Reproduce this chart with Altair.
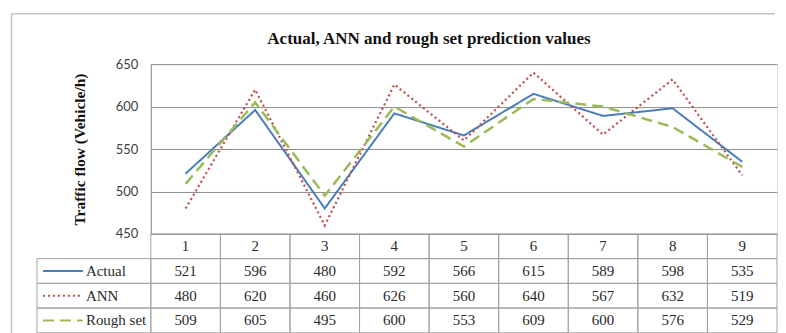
import altair as alt
import pandas as pd

# ---- data ----
periods = [1, 2, 3, 4, 5, 6, 7, 8, 9]
actual = [521, 596, 480, 592, 566, 615, 589, 598, 535]
ann = [480, 620, 460, 626, 560, 640, 567, 632, 519]
rough = [509, 605, 495, 600, 553, 609, 600, 576, 529]
series_names = ["Actual", "ANN", "Rough set"]
series_colors = ["#4A7EBB", "#C0504D", "#9BBB59"]
series_dash = [[1, 0], [2, 3], [11, 6]]
series_width = [2, 2.5, 3]
y_ticks = [450, 500, 550, 600, 650]
title_text = "Actual, ANN and rough set prediction values"
y_title = "Traffic flow (Vehicle/h)"
header_row = "head"

# ---- layout ----
W, H = 627, 170
TABLE_BOTTOM = 269
STEP = W / len(periods)
LABEL_COL = 114 / STEP          # legend column width, in column units
LEG_X0, LEG_X1, LEG_TX = -108 / STEP, -68 / STEP, -65 / STEP
SERIF = "Liberation Serif"
GRID = "#8f8f8f"
CELL = "#a3a3a3"
FRAME = "#c4c4c4"

values_by_series = {"Actual": actual, "ANN": ann, "Rough set": rough}

lines_df = pd.DataFrame(
    [{"period": p, "series": s, "value": v}
     for s in series_names for p, v in zip(periods, values_by_series[s])]
)

cells = []
for p in periods:
    cells.append({"row": header_row, "x0": p - 1, "x1": p, "text": str(p)})
for s in series_names:
    cells.append({"row": s, "x0": -LABEL_COL, "x1": 0, "text": ""})
    for p, v in zip(periods, values_by_series[s]):
        cells.append({"row": s, "x0": p - 1, "x1": p, "text": str(v)})
table_df = pd.DataFrame(cells)

legend_df = pd.DataFrame(
    [{"row": s, "series": s, "lx0": LEG_X0, "lx1": LEG_X1, "tx": LEG_TX}
     for s in series_names]
)

xscale = alt.Scale(domain=[0, len(periods)], nice=False, zero=False)
row_scale = alt.Scale(domain=[header_row] + series_names, range=[H, TABLE_BOTTOM],
                      paddingInner=0, paddingOuter=0)
color_scale = alt.Scale(domain=series_names, range=series_colors)
dash_scale = alt.Scale(domain=series_names, range=series_dash)

one = alt.Data(values=[{"f": 1}])
frame_top = alt.Chart(one).mark_rule(color=FRAME, strokeWidth=1.5).encode(
    x=alt.value(-139.5), x2=alt.value(W - 2), y=alt.value(-50.5),
)
frame_left = alt.Chart(one).mark_rule(color=FRAME, strokeWidth=1.5).encode(
    x=alt.value(-139.5), y=alt.value(-50.5), y2=alt.value(TABLE_BOTTOM + 2),
)

table_cells = alt.Chart(table_df).mark_rect(
    fill="transparent", stroke=CELL, strokeWidth=1
).encode(
    x=alt.X("x0:Q", scale=xscale, axis=None),
    x2="x1:Q",
    y=alt.Y("row:N", scale=row_scale, axis=None),
)

table_text = alt.Chart(table_df).transform_calculate(
    xc="(datum.x0 + datum.x1) / 2"
).mark_text(font=SERIF, fontSize=15, color="#2a2a2a", baseline="middle").encode(
    x=alt.X("xc:Q", scale=xscale, axis=None),
    y=alt.Y("row:N", scale=row_scale, axis=None, bandPosition=0.5),
    text="text:N",
)

legend_lines = alt.Chart(legend_df).mark_rule(strokeWidth=2).encode(
    x=alt.X("lx0:Q", scale=xscale, axis=None),
    x2="lx1:Q",
    y=alt.Y("row:N", scale=row_scale, axis=None, bandPosition=0.5),
    color=alt.Color("series:N", scale=color_scale, legend=None),
    strokeDash=alt.StrokeDash("series:N", scale=dash_scale, legend=None),
)

legend_text = alt.Chart(legend_df).mark_text(
    font=SERIF, fontSize=15, color="#2a2a2a", baseline="middle", align="left"
).encode(
    x=alt.X("tx:Q", scale=xscale, axis=None),
    y=alt.Y("row:N", scale=row_scale, axis=None, bandPosition=0.5),
    text="series:N",
)

lines = alt.Chart(lines_df).transform_calculate(
    xc="datum.period - 0.5"
).mark_line().encode(
    x=alt.X("xc:Q", scale=xscale, axis=None),
    y=alt.Y(
        "value:Q",
        scale=alt.Scale(domain=[450, 650], nice=False, zero=False),
        axis=alt.Axis(
            values=y_ticks, title=y_title, grid=True, gridColor=GRID, gridWidth=1,
            domain=True, domainColor=GRID, ticks=False, labelPadding=13,
            labelFont="Lato", labelFontSize=13, labelColor="#404040",
            titleFont=SERIF, titleFontSize=15.5, titleFontWeight="bold",
            titleColor="#111111", titlePadding=28,
        ),
    ),
    color=alt.Color("series:N", scale=color_scale, legend=None),
    strokeDash=alt.StrokeDash("series:N", scale=dash_scale, legend=None),
    strokeWidth=alt.StrokeWidth(
        "series:N", scale=alt.Scale(domain=series_names, range=series_width),
        legend=None,
    ),
)

chart = alt.layer(
    frame_top, frame_left, table_cells, table_text, legend_lines, legend_text, lines
).resolve_scale(
    y="independent"
).properties(
    width=W, height=H,
    title=alt.TitleParams(
        title_text, font=SERIF, fontSize=17, fontWeight="bold", color="#111111",
        anchor="middle", frame="group", dx=-35, offset=-35,
    ),
    padding={"left": 2, "top": 4, "right": 0, "bottom": 0},
).configure_view(stroke=None).configure(background="white")

chart.save("out.html", embed_options={"renderer": "svg", "actions": False})
